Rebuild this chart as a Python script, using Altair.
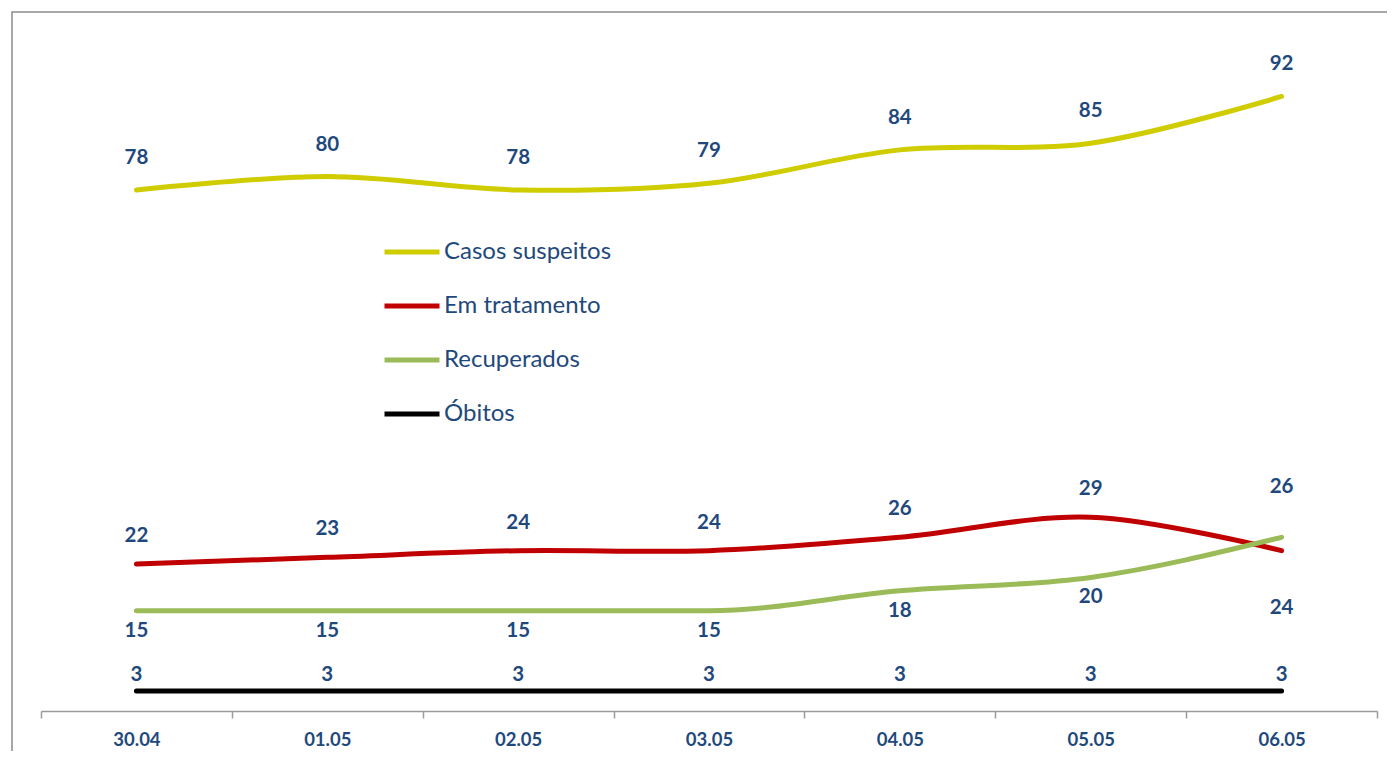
import altair as alt
import pandas as pd

dates = ["30.04", "01.05", "02.05", "03.05", "04.05", "05.05", "06.05"]
casos_suspeitos = [78, 80, 78, 79, 84, 85, 92]
em_tratamento = [22, 23, 24, 24, 26, 29, 24]
recuperados = [15, 15, 15, 15, 18, 20, 26]
obitos = [3, 3, 3, 3, 3, 3, 3]

series_names = ["Casos suspeitos", "Em tratamento", "Recuperados", "Óbitos"]
series_colors = ["#CFCC00", "#C00000", "#9BBB59", "#000000"]

rows = []
for i, d in enumerate(dates):
    vals = [casos_suspeitos[i], em_tratamento[i], recuperados[i], obitos[i]]
    crossed = recuperados[i] > em_tratamento[i]
    for name, v in zip(series_names, vals):
        if name == "Casos suspeitos":
            pos = "top"
        elif name == "Óbitos":
            pos = "low"
        elif name == "Em tratamento":
            pos = "below_x" if crossed else "above"
        else:
            pos = "above_x" if crossed else "below"
        rows.append({"date": d, "serie": name, "value": v, "pos": pos})
df = pd.DataFrame(rows)

label_color = "#1F497D"
font = "Lato"

x_enc = alt.X("date:N", sort=dates,
              scale=alt.Scale(type="band", paddingInner=0, paddingOuter=0),
              axis=alt.Axis(title=None, labelAngle=0, tickBand="extent",
                            domainColor="#9a9a9a", domainWidth=1.5,
                            tickColor="#9a9a9a", tickWidth=1.5, tickSize=7,
                            labelFont=font, labelFontWeight="bold",
                            labelFontSize=18.5, labelColor=label_color,
                            labelPadding=12))
y_enc = alt.Y("value:Q", scale=alt.Scale(domain=[0, 100]), axis=None)
color_enc = alt.Color("serie:N", sort=series_names,
                      scale=alt.Scale(domain=series_names, range=series_colors),
                      legend=alt.Legend(title=None, orient="none",
                                        legendX=341, legendY=179,
                                        symbolType="stroke", symbolSize=3025,
                                        symbolStrokeWidth=5,
                                        labelFont=font, labelFontSize=24,
                                        labelColor=label_color, labelLimit=500,
                                        labelOffset=2, rowPadding=12))

base = alt.Chart(df)

frame = alt.Chart(pd.DataFrame({"a": [0]})).mark_rect(
    filled=False, stroke="#8c8c8c", strokeWidth=1.5
).encode(x=alt.value(-29), x2=alt.value(1600), y=alt.value(-31), y2=alt.value(900))

smooth = base.mark_line(strokeWidth=5, interpolate="catmull-rom", strokeCap="round").encode(
    x=x_enc, y=y_enc, color=color_enc
).transform_filter(alt.FieldOneOfPredicate(field="serie", oneOf=["Casos suspeitos", "Em tratamento"]))

green = base.mark_line(strokeWidth=5, interpolate="monotone", strokeCap="round").encode(
    x=x_enc, y=y_enc, color=color_enc
).transform_filter(alt.datum.serie == "Recuperados")

black = base.mark_line(strokeWidth=5, strokeCap="round").encode(
    x=x_enc, y=y_enc, color=color_enc
).transform_filter(alt.datum.serie == "Óbitos")

def labels(pos, dy):
    return base.mark_text(font=font, fontWeight="bold", fontSize=20.5,
                          color=label_color, dy=dy).encode(
        x=x_enc, y=y_enc, text="value:Q"
    ).transform_filter(alt.datum.pos == pos)

chart = alt.layer(
    frame, smooth, green, black,
    labels("top", -32), labels("above", -28), labels("below", 20),
    labels("above_x", -50), labels("below_x", 57), labels("low", -16)
).properties(
    width=1336, height=668,
    autosize=alt.AutoSizeParams(type="none"),
    padding={"left": 33, "top": 35, "right": 10, "bottom": 40}
).configure_view(stroke=None)

chart.save("out.html", embed_options={"renderer": "svg", "actions": False})
